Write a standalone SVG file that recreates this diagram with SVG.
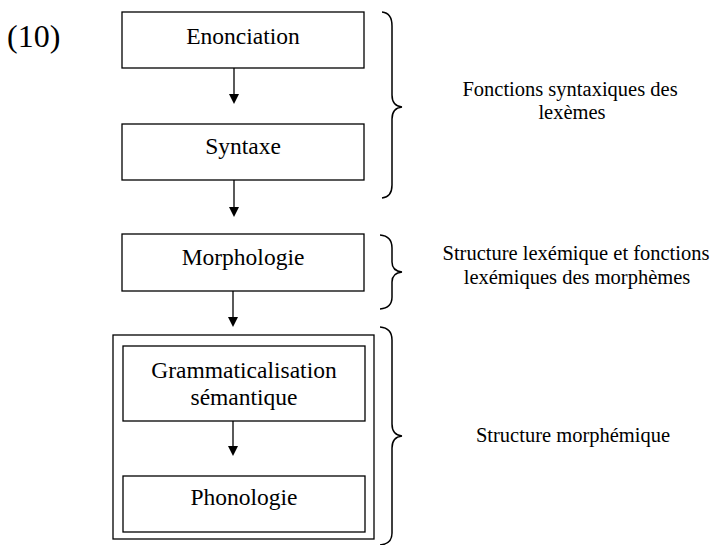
<svg xmlns="http://www.w3.org/2000/svg" width="710" height="545" viewBox="0 0 710 545">
<style>
.box{fill:#fff;stroke:#000;stroke-width:1.3}
.t{font-family:"Liberation Serif","Times New Roman",serif;font-size:23.5px;fill:#000;text-anchor:middle}
.r{font-family:"Liberation Serif","Times New Roman",serif;font-size:20.5px;fill:#000;text-anchor:middle}
.brace{fill:none;stroke:#000;stroke-width:1.5}
.line{stroke:#000;stroke-width:1.3}
</style>
<text x="7" y="47" style="font-family:'Liberation Serif','Times New Roman',serif;font-size:32px">(10)</text>
<g id="enonciation"><rect class="box" x="122" y="12" width="242" height="56"/><text class="t" x="243" y="43.5">Enonciation</text></g>
<g id="syntaxe"><rect class="box" x="122" y="124" width="242" height="56"/><text class="t" x="243" y="154">Syntaxe</text></g>
<g id="morphologie"><rect class="box" x="122" y="234" width="242" height="57"/><text class="t" x="243" y="265">Morphologie</text></g>
<g id="structure-morphemique-box"><rect class="box" x="113" y="335" width="261" height="204"/>
<g id="grammaticalisation"><rect class="box" x="123" y="346" width="242" height="75"/><text class="t" x="244" y="378">Grammaticalisation</text><text class="t" x="244" y="405">sémantique</text></g>
<g id="phonologie"><rect class="box" x="123" y="476" width="242" height="56"/><text class="t" x="244" y="505">Phonologie</text></g>
</g>
<g id="connectors">
<line class="line" x1="234" y1="68" x2="234" y2="96"/>
<path d="M229,94 L239,94 L234,104 Z"/>
<line class="line" x1="234" y1="180" x2="234" y2="209"/>
<path d="M229,207 L239,207 L234,217 Z"/>
<line class="line" x1="233" y1="291" x2="233" y2="319"/>
<path d="M228,317 L238,317 L233,327 Z"/>
<line class="line" x1="233" y1="421" x2="233" y2="448"/>
<path d="M228,446 L238,446 L233,456 Z"/>
</g>
<g id="braces">
<path class="brace" d="M382,12 Q392,13 392,26 L392,95 Q392,106 402,107 Q392,108 392,119 L392,185 Q392,197 382,198"/>
<path class="brace" d="M380,235 Q392,236 392,248 L392,262 Q392,271 402,272 Q392,273 392,282 L392,297 Q392,308 380,309"/>
<path class="brace" d="M380,327 Q392,328 392,340 L392,424 Q392,435 402,436 Q392,437 392,448 L392,533 Q392,544 380,545"/>
</g>
<g id="labels">
<text class="r" x="570" y="95.5">Fonctions syntaxiques des</text>
<text class="r" x="572" y="119">lexèmes</text>
<text class="r" x="576" y="260">Structure lexémique et fonctions</text>
<text class="r" x="577" y="284">lexémiques des morphèmes</text>
<text class="r" x="573" y="442">Structure morphémique</text>
</g>
</svg>
